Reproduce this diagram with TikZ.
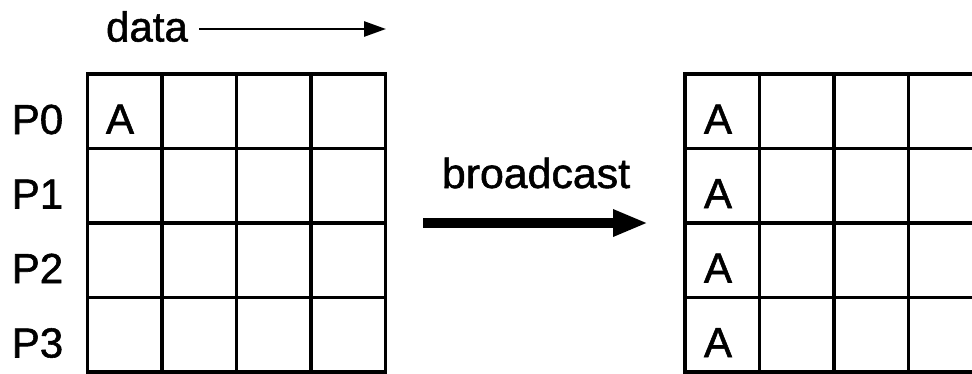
\documentclass[tikz,border=0pt]{standalone}
\usepackage{fontspec}
\setmainfont{Liberation Sans}
\newfontfamily\heavy{Liberation Sans}[FakeBold=1.3]
\usetikzlibrary{arrows.meta}
\tikzset{
  lbl/.style={inner sep=0pt, anchor=base, font=\heavy\fontsize{42}{50}\selectfont},
  gridline/.style={line width=3.2pt, line cap=rect},
}
\begin{document}
\begin{tikzpicture}[x=1pt, y=-1pt]
\useasboundingbox (0,0) rectangle (972,373);
\clip (0,0) rectangle (972,373);
% left grid
\foreach \i in {0,...,4} {
  \draw[gridline] (87.5+74.5*\i,74) -- (87.5+74.5*\i,372);
  \draw[gridline] (87.5,74+74.5*\i) -- (385.5,74+74.5*\i);
}
% right grid
\foreach \i in {0,...,4} {
  \draw[gridline] (685+74.5*\i,74) -- (685+74.5*\i,372);
  \draw[gridline] (685,74+74.5*\i) -- (990,74+74.5*\i);
}
% row labels
\node[lbl] (p0) at (37.5,134) {P0};
\node[lbl] (p1) at (37.5,208.5) {P1};
\node[lbl] (p2) at (37.5,283) {P2};
\node[lbl] (p3) at (37.5,357.5) {P3};
% left A
\node[lbl] (la) at (120,133.5) {A};
% right A's
\node[lbl] (ra0) at (718,133.5) {A};
\node[lbl] (ra1) at (718,208) {A};
\node[lbl] (ra2) at (718,282.5) {A};
\node[lbl] (ra3) at (718,357) {A};
% data label and arrow
\node[lbl] (data) at (147,41.5) {data};
\coordinate (ds) at (199,29);
\coordinate (de) at (386,29);
\draw[line width=2.7pt, -{Triangle[width=15pt,length=22pt]}] (ds) -- (de);
% broadcast
\node[lbl] (bc) at (536,188) {\scalebox{1.02}[1]{broadcast}};
\coordinate (bs) at (423,223);
\coordinate (be) at (648,223);
\draw[line width=10pt, -{Triangle[width=25pt,length=35pt]}] (bs) -- (be);
\end{tikzpicture}
\end{document}
